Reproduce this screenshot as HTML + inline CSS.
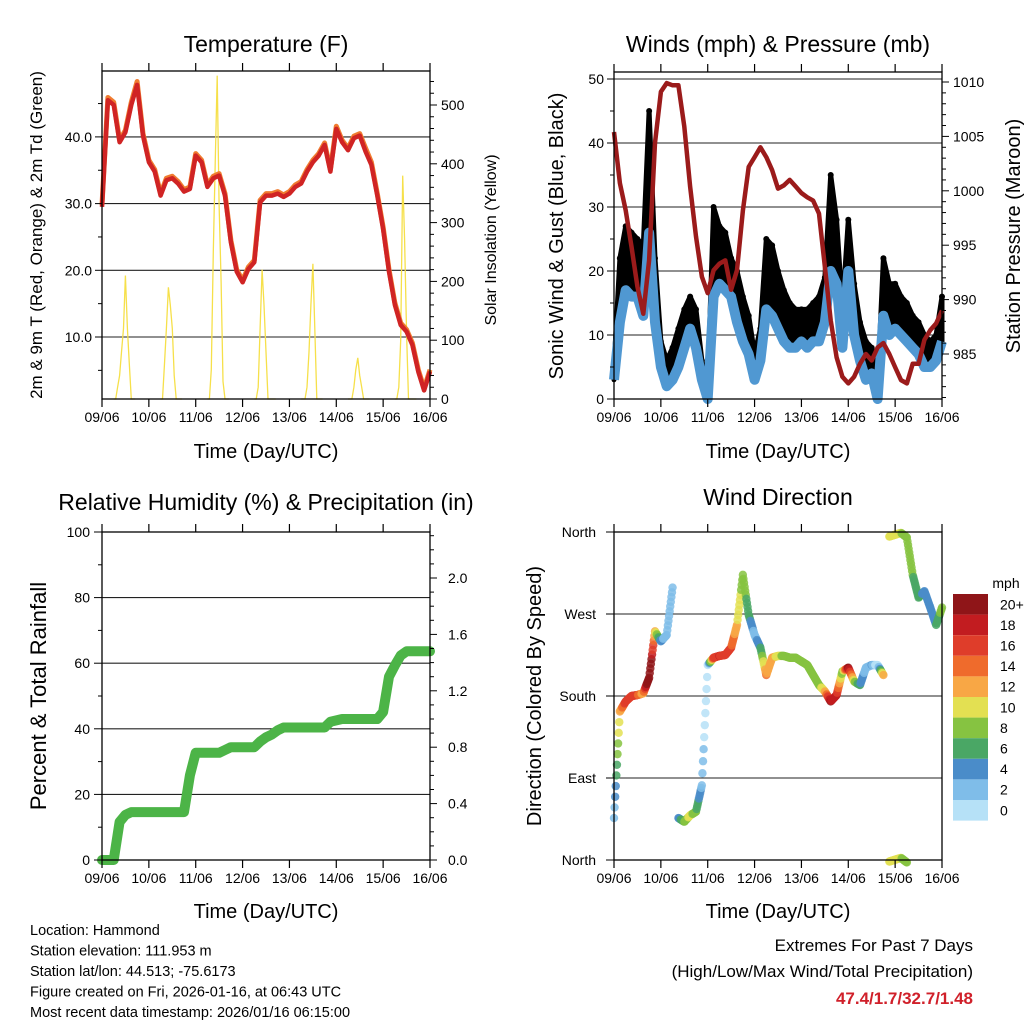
<!DOCTYPE html>
<html><head><meta charset="utf-8"><style>
body{margin:0;background:#fff;}
svg{display:block;font-family:"Liberation Sans",sans-serif;}
</style></head><body>
<svg id="c" width="1024" height="1024" viewBox="0 0 1024 1024"></svg>
<script>
// ===== data (3-hourly from 09/06 00Z to 16/06 00Z) =====
const dayLabels=["09/06","10/06","11/06","12/06","13/06","14/06","15/06","16/06"];
const temp2m=[29.5,45.5,44.8,39.2,40.7,44.8,47.8,40.2, 36.2,34.8,31.2,33.5,33.8,33,31.8,32.2, 37.2,36.2,32.5,33.8,34.2,31.2,24.2,19.8, 18.2,20.2,21.2,30.2,31.2,31.2,31.5,31, 31.5,32.5,33,34.8,36.2,37.2,38.8,34.8, 41.2,39.2,38,39.8,40.2,37.8,35.8,31.2, 26.2,19.8,14.8,11.8,10.8,8.8,4.8,2,4.8];
const temp9m=[29.8,45.9,45.2,39.5,41,45.2,48.3,40.5, 36.5,35.1,31.5,33.8,34.1,33.3,32.1,32.5, 37.5,36.5,32.8,34.1,34.5,31.5,24.5,20.1, 18.5,20.5,21.5,30.5,31.5,31.5,31.8,31.3, 31.8,32.8,33.3,35.1,36.5,37.5,39.1,35.1, 41.6,39.5,38.3,40.1,40.5,38.3,36.2,31.5, 26.5,20.1,15.1,12.1,11.1,9.1,5.1,2.3,5.1];
const solarHours=[6,7,8,9,10,11,12,13,14,15,16,17];
const solarDay9 =[0,0,20,40,80,120,210,120,60,0,0,0];
const solarDay10=[0,0,60,120,190,160,120,40,0,0,0,0];
const solarDay11=[0,0,50,250,400,550,330,200,30,0,0,0];
const solarDay12=[0,0,20,120,220,160,80,0,0,0,0,0];
const solarDay13=[0,0,0,20,80,160,230,120,0,0,0,0];
const solarDay14=[0,0,0,20,50,70,40,20,0,0,0,0];
const solarDay15=[0,0,20,100,380,270,110,0,0,0,0,0];
const windSpeed=[3,12,17,16,16,13,26,12, 5,2,3,5,8,11,8,3, 0,16,18,17,16,12,9,7, 3,6,14,13,11,9,8,8, 9,8,9,9,12,20,18,8, 20,10,6,3,4,0,13,10, 11,10,9,8,7,5,5,6,9];
const windGust=[5,22,27,26,25,24,45,22, 9,6,8,11,14,16,14,6, 2,30,27,26,22,20,16,13, 7,11,25,24,20,17,15,14, 14,14,15,16,19,35,28,14, 28,18,12,9,8,2,22,18, 18,16,15,13,12,10,9,10,16];
const pressure=[1005.4,1000.7,998.2,994.8,991.2,988.7,993.6,1004.4, 1009.1,1009.9,1009.7,1009.7,1005.9,1000.4,995.8,992.1, 990.6,992.7,993.3,993.6,990.9,992.7,998.2,1002.2, 1003.1,1004,1003.1,1001.9,1000.2,1000.5,1001,1000.4, 999.8,999.4,999.1,997.9,993,988.1,984.7,982.9, 982.3,982.9,984.1,985,984.4,985.6,986,985, 983.8,982.6,982.3,984.1,984.1,986.3,987.2,987.8,989];
const windDir=[46,163,174,180,181,183,200,251, 240,247,299,46,42,49,53,82, 214,222,224,225,233,258,313,269, 247,233,203,222,224,224,222,222, 218,214,203,192,185,174,181,207, 211,196,192,211,214,214,203,355, 357,359,354,313,288,295,277,258,277];
const rainTotal=[0,0,0,0.27,0.32,0.34,0.34,0.34, 0.34,0.34,0.34,0.34,0.34,0.34,0.34,0.6, 0.76,0.76,0.76,0.76,0.76,0.78,0.8,0.8, 0.8,0.8,0.8,0.84,0.87,0.89,0.92,0.94, 0.94,0.94,0.94,0.94,0.94,0.94,0.94,0.98, 0.99,1,1,1,1,1,1,1, 1.05,1.3,1.38,1.45,1.48,1.48,1.48,1.48,1.48];
const speedLabels=["0","2","4","6","8","10","12","14","16","18","20+"];
const speedColors=["#b6e1f7","#7fbde9","#4a8cc9","#4aa765","#86c341","#e3e052","#f8a745","#ef6b2c","#df3d2a","#c21c20","#8f1518"];

const svg=document.getElementById('c');
const NS="http://www.w3.org/2000/svg";
function mk(tag,attrs,parent){const e=document.createElementNS(NS,tag);for(const k in attrs)e.setAttribute(k,attrs[k]);(parent||svg).appendChild(e);return e;}
function txt(s,x,y,size,anchor,parent,extra){const e=mk('text',Object.assign({x:x,y:y,'font-size':size,'text-anchor':anchor||'middle',fill:'#000'},extra||{}),parent);e.textContent=s;return e;}
const STEP=0.125, DAYW=328/7;

function panelFrame(x0,y0,x1,y1,name){
  const g=mk('g',{});
  
  
  return g;
}
function box(g,x0,y0,x1,y1){mk('rect',{x:x0,y:y0,width:x1-x0,height:y1-y0,fill:'none',stroke:'#000','stroke-width':1.3},g);}
function xTicks(g,x0,y0,x1,y1){
  for(let i=0;i<=7;i++){const x=x0+i*DAYW;
    mk('line',{x1:x,y1:y1,x2:x,y2:y1+8,stroke:'#000','stroke-width':1.2},g);
    mk('line',{x1:x,y1:y0,x2:x,y2:y0-8,stroke:'#000','stroke-width':1.2},g);
    const t=txt(dayLabels[i],x,y1+23,14,'middle',g);
    
    
  }
}
function yTicks(g,side,x,ys,len){
  ys.forEach(y=>mk('line',{x1:x,y1:y,x2:side==='l'?x-len:x+len,y2:y,stroke:'#000','stroke-width':1},g));
}
function grid(g,x0,x1,ys){ys.forEach(y=>mk('line',{x1:x0,y1:y,x2:x1,y2:y,stroke:'#222','stroke-width':1.1},g));}
function path(pts){return pts.map((p,i)=>(i?'L':'M')+p[0].toFixed(1)+','+p[1].toFixed(1)).join('');}

// ===== Panel 1: Temperature =====
(function(){
  const x0=102,x1=430,y0=71,y1=399;
  const g=panelFrame(x0,y0,x1,y1,'temperature-panel');
  const X=t=>x0+t*DAYW, YT=v=>403.7-v*6.67, YS=s=>y1-s*0.588;
  const tt=txt('Temperature (F)',266,52,23,'middle',g);
  
  
  grid(g,x0,x1,[10,20,30,40].map(YT));
  const days=[solarDay9,solarDay10,solarDay11,solarDay12,solarDay13,solarDay14,solarDay15];
  days.forEach((arr,d)=>{
    const pts=arr.map((v,i)=>[X(d+solarHours[i]/24),YS(v)]);
    const p=mk('path',{d:path(pts),fill:'none',stroke:'#f6e04a','stroke-width':1.3},g);
    
    
  });
  const p9=mk('path',{d:path(temp9m.map((v,i)=>[X(i*STEP),YT(v)])),fill:'none',stroke:'#f07c30','stroke-width':5,'stroke-linejoin':'round'},g);
  
  
  const p2=mk('path',{d:path(temp2m.map((v,i)=>[X(i*STEP),YT(v)])),fill:'none',stroke:'#d02424','stroke-width':4.5,'stroke-linejoin':'round'},g);
  
  
  box(g,x0,y0,x1,y1);
  xTicks(g,x0,y0,x1,y1);
  const maj=[10,20,30,40], mn=[5,15,25,35,45];
  yTicks(g,'l',x0,maj.map(YT),7); yTicks(g,'l',x0,mn.map(YT),4);
  maj.forEach(v=>{const t=txt(v.toFixed(1),x0-10,YT(v)+5,14,'end',g);});
  const rm=[0,100,200,300,400,500];
  yTicks(g,'r',x1,rm.map(YS),7);
  const rmin=[];for(let s=20;s<=540;s+=20)if(s%100)rmin.push(s);
  yTicks(g,'r',x1,rmin.map(YS),4);
  rm.forEach(v=>{const t=txt(String(v),x1+11,YS(v)+5,14,'start',g);});
  const yl=txt('2m & 9m T (Red, Orange) & 2m Td (Green)',0,0,17,'middle',g,{transform:'translate(42,235) rotate(-90)'});
  
  
  const yr=txt('Solar Insolation (Yellow)',0,0,16,'middle',g,{transform:'translate(496,240) rotate(-90)'});
  
  
  const xl=txt('Time (Day/UTC)',266,458,20,'middle',g);
  
  
})();

// ===== Panel 2: Winds & Pressure =====
(function(){
  const x0=614,x1=942,y0=72,y1=399;
  const g=panelFrame(x0,y0,x1,y1,'winds-panel');
  const X=t=>x0+t*DAYW, YV=v=>y1-v*6.4, YP=p=>82+(1010-p)*10.88;
  const tt=txt('Winds (mph) & Pressure (mb)',778,52,23,'middle',g);
  
  
  grid(g,x0,x1,[10,20,30,40,50].map(YV));
  const up=windGust.map((v,i)=>[X(i*STEP),YV(v)]);
  const dn=windSpeed.map((v,i)=>[X(i*STEP),YV(v)]).reverse();
  const ga=mk('path',{d:path(up.concat(dn))+'Z',fill:'#000',stroke:'#000','stroke-width':5,'stroke-linejoin':'round'},g);
  
  
  windGust.forEach((v,i)=>{const c=mk('circle',{cx:X(i*STEP),cy:YV(v),r:3,fill:'#000'},g);
    
    });
  const wl=mk('path',{d:path(windSpeed.map((v,i)=>[X(i*STEP),YV(v)])),fill:'none',stroke:'#5098d2','stroke-width':10,'stroke-linejoin':'round'},g);
  
  
  const pl=mk('path',{d:path(pressure.map((v,i)=>[X(i*STEP),YP(v)])),fill:'none',stroke:'#9b1b1b','stroke-width':4.5,'stroke-linejoin':'round'},g);
  
  
  box(g,x0,y0,x1,y1);
  xTicks(g,x0,y0,x1,y1);
  const maj=[0,10,20,30,40,50];
  yTicks(g,'l',x0,maj.map(YV),7); yTicks(g,'l',x0,[5,15,25,35,45].map(YV),4);
  maj.forEach(v=>{const t=txt(String(v),x0-10,YV(v)+5,14,'end',g);});
  const pm=[985,990,995,1000,1005,1010];
  yTicks(g,'r',x1,pm.map(YP),7);
  const pmin=[];for(let p=981;p<=1010;p++)if(p%5)pmin.push(p);
  yTicks(g,'r',x1,pmin.map(YP),4);
  pm.forEach(v=>{const t=txt(String(v),x1+11,YP(v)+5,14,'start',g);});
  const yl=txt('Sonic Wind & Gust (Blue, Black)',0,0,20,'middle',g,{transform:'translate(563,236) rotate(-90)'});
  
  
  const yr=txt('Station Pressure (Maroon)',0,0,20,'middle',g,{transform:'translate(1020,236) rotate(-90)'});
  
  
  const xl=txt('Time (Day/UTC)',778,458,20,'middle',g);
  
  
})();

// ===== Panel 3: RH & Precip =====
(function(){
  const x0=102,x1=430,y0=532,y1=860;
  const g=panelFrame(x0,y0,x1,y1,'humidity-precip-panel');
  const X=t=>x0+t*DAYW, YP=p=>y1-p*3.28, YR=r=>y1-r*141;
  const tt=txt('Relative Humidity (%) & Precipitation (in)',266,510,23,'middle',g);
  
  
  grid(g,x0,x1,[20,40,60,80].map(YP));
  const rl=mk('path',{d:path(rainTotal.map((v,i)=>[X(i*STEP),YR(v)])),fill:'none',stroke:'#4cb447','stroke-width':10,'stroke-linejoin':'round','stroke-linecap':'round'},g);
  
  
  box(g,x0,y0,x1,y1);
  xTicks(g,x0,y0,x1,y1);
  const maj=[0,20,40,60,80,100];
  yTicks(g,'l',x0,maj.map(YP),8); yTicks(g,'l',x0,[10,30,50,70,90].map(YP),4);
  maj.forEach(v=>{const t=txt(String(v),x0-12,YP(v)+5,14,'end',g);});
  const rm=[0,0.4,0.8,1.2,1.6,2.0];
  yTicks(g,'r',x1,rm.map(YR),7);
  const rmin=[];for(let r=0.1;r<2.33;r+=0.1){if(Math.abs(r*10/4-Math.round(r*10/4))>0.01)rmin.push(r);}
  yTicks(g,'r',x1,rmin.map(YR),4);
  rm.forEach(v=>{const t=txt(v.toFixed(1),x1+18,YR(v)+5,14,'start',g);});
  const yl=txt('Percent & Total Rainfall',0,0,22,'middle',g,{transform:'translate(46,696) rotate(-90)'});
  
  
  const xl=txt('Time (Day/UTC)',266,918,20,'middle',g);
  
  
})();

// ===== Panel 4: Wind Direction =====
(function(){
  const x0=614,x1=942,y0=532,y1=860;
  const g=panelFrame(x0,y0,x1,y1,'wind-direction-panel');
  const X=t=>x0+t*DAYW, YD=d=>y1-d*(328/360);
  const col=v=>speedColors[Math.max(0,Math.min(10,Math.floor(v/2)))];
  const tt=txt('Wind Direction',778,505,23,'middle',g);
  
  
  grid(g,x0,x1,[90,180,270].map(YD));
  function dot(t,d,v){
    const c=mk('circle',{cx:X(t),cy:YD(d),r:4.2,fill:col(v),'fill-opacity':0.85},g);
    
    
    if(d>=353){const c2=mk('circle',{cx:X(t),cy:YD(d-360)-3,r:4.2,fill:col(v),'fill-opacity':0.85},g);
      
      }
  }
  for(let i=0;i<windDir.length;i++){
    dot(i*STEP,windDir[i],windSpeed[i]);
    if(i<windDir.length-1){
      const a=windDir[i],b=windDir[i+1];
      if(Math.abs(b-a)<150){
        for(let k=1;k<10;k++){const f=k/10;dot((i+f)*STEP,a+(b-a)*f,windSpeed[i]+(windSpeed[i+1]-windSpeed[i])*f);}
      }
    }
  }
  box(g,x0,y0,x1,y1);
  xTicks(g,x0,y0,x1,y1);
  const names=["North","East","South","West","North"];
  const degs=[0,90,180,270,360];
  yTicks(g,'l',x0,degs.map(YD),8);
  degs.forEach((d,i)=>{const t=txt(names[i],x0-18,YD(d)+5,14,'end',g);});
  const yl=txt('Direction (Colored By Speed)',0,0,20,'middle',g,{transform:'translate(541,696) rotate(-90)'});
  
  
  const xl=txt('Time (Day/UTC)',778,918,20,'middle',g);
  
  
  const lg=mk('g',{},svg);
  
  
  const lt=txt('mph',1006,588,14,'middle',lg);
  
  
  const bh=20.6;
  for(let i=0;i<11;i++){
    const idx=10-i, y=594+i*bh;
    const r=mk('rect',{x:953,y:y,width:35,height:bh,fill:speedColors[idx]},lg);
    
    
    const t=txt(speedLabels[idx],1000,y+bh/2+5,14,'start',lg);
    
    
  }
})();

// ===== Footer =====
(function(){
  const g=mk('g',{});
  
  
  const lines=["Location: Hammond","Station elevation: 111.953 m","Station lat/lon: 44.513; -75.6173","Figure created on Fri, 2026-01-16, at 06:43 UTC","Most recent data timestamp: 2026/01/16 06:15:00"];
  lines.forEach((s,i)=>{const t=txt(s,30,935+i*20.5,14.5,'start',g);});
  const e=mk('g',{});
  
  
  const a=txt('Extremes For Past 7 Days',973,951,17,'end',e);
  
  
  const b=txt('(High/Low/Max Wind/Total Precipitation)',973,977,17,'end',e);
  
  
  const c=txt('47.4/1.7/32.7/1.48',973,1004,17,'end',e,{fill:'#d0202a','font-weight':'bold'});
  
  
})();
</script>
</body></html>
